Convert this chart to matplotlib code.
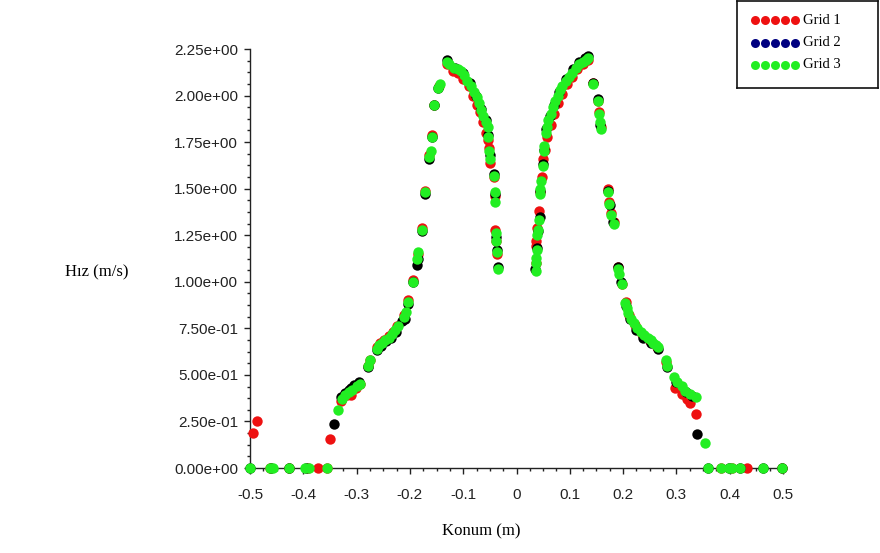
import matplotlib
matplotlib.use('Agg')
import matplotlib.pyplot as plt
from matplotlib.ticker import MultipleLocator, FuncFormatter

# Grid 3 (green, drawn on top)
g3_x = [-0.5, -0.462, -0.456, -0.426, -0.396, -0.39, -0.356,
        -0.334, -0.328, -0.322, -0.315, -0.308, -0.300, -0.293, -0.278, -0.274,
        -0.262, -0.258, -0.252, -0.246, -0.240, -0.234, -0.228, -0.223, -0.212,
        -0.208, -0.203, -0.195, -0.186, -0.184, -0.178, -0.171, -0.165, -0.161,
        -0.159, -0.154, -0.148, -0.144, -0.130, -0.126,
        -0.118, -0.110, -0.104, -0.098, -0.092, -0.086, -0.080, -0.075, -0.070,
        -0.066, -0.062, -0.058, -0.054, -0.053, -0.051, -0.049, -0.043, -0.041,
        -0.041, -0.039, -0.038, -0.036, -0.034,
        0.036, 0.036, 0.037, 0.038, 0.039, 0.040, 0.043, 0.045, 0.045, 0.046,
        0.049, 0.051, 0.052, 0.055, 0.057, 0.060, 0.064, 0.069, 0.073, 0.077,
        0.082, 0.086, 0.092, 0.098, 0.104, 0.111, 0.118, 0.124, 0.130, 0.135,
        0.144, 0.152, 0.154, 0.156, 0.158, 0.171, 0.173, 0.178, 0.182, 0.190,
        0.193, 0.197, 0.204, 0.207, 0.210, 0.215, 0.220, 0.226, 0.233, 0.240,
        0.246, 0.252, 0.257, 0.262, 0.266, 0.280, 0.283, 0.295, 0.302, 0.310,
        0.317, 0.326, 0.336, 0.353,
        0.360, 0.383, 0.398, 0.405, 0.420, 0.462, 0.499]
g3_y = [0, 0, 0, 0, 0, 0, 0,
        0.31, 0.37, 0.39, 0.41, 0.42, 0.44, 0.45, 0.55, 0.58,
        0.64, 0.66, 0.67, 0.69, 0.70, 0.72, 0.74, 0.76, 0.81,
        0.84, 0.89, 1.00, 1.12, 1.16, 1.28, 1.48, 1.67, 1.70,
        1.78, 1.95, 2.04, 2.06, 2.18, 2.17,
        2.15, 2.14, 2.13, 2.11, 2.08, 2.05, 2.02, 1.99, 1.96,
        1.92, 1.89, 1.86, 1.83, 1.78, 1.70, 1.66, 1.57, 1.48,
        1.43, 1.26, 1.22, 1.16, 1.07,
        1.06, 1.10, 1.13, 1.17, 1.25, 1.28, 1.33, 1.47, 1.50, 1.54,
        1.62, 1.70, 1.73, 1.80, 1.83, 1.87, 1.90, 1.94, 1.97, 2.00,
        2.03, 2.05, 2.08, 2.10, 2.12, 2.15, 2.17, 2.18, 2.19, 2.20,
        2.06, 1.97, 1.90, 1.86, 1.82, 1.48, 1.42, 1.36, 1.31, 1.07,
        1.04, 0.99, 0.885, 0.86, 0.83, 0.80, 0.78, 0.75, 0.73, 0.715,
        0.70, 0.685, 0.67, 0.66, 0.65, 0.58, 0.55, 0.49, 0.46, 0.44,
        0.415, 0.40, 0.38, 0.135,
        0, 0, 0, 0, 0, 0, 0]

# Grid 1 (red)
g1_x = [-0.495, -0.486, -0.462, -0.426, -0.392, -0.373, -0.356, -0.349,
        -0.330, -0.318, -0.311, -0.302, -0.294, -0.278, -0.274, -0.262, -0.256,
        -0.248, -0.240, -0.232, -0.224, -0.212, -0.204, -0.195, -0.185, -0.178,
        -0.171, -0.165, -0.159, -0.154, -0.146, -0.130,
        -0.120, -0.110, -0.100, -0.090, -0.082, -0.074, -0.068, -0.062, -0.057,
        -0.054, -0.052, -0.049, -0.043, -0.041, -0.040, -0.038, -0.036,
        0.036, 0.036, 0.037, 0.039, 0.043, 0.045, 0.047, 0.050, 0.053, 0.058,
        0.064, 0.070, 0.078, 0.086, 0.095, 0.104, 0.114, 0.124, 0.134,
        0.144, 0.152, 0.155, 0.158, 0.171, 0.174, 0.178, 0.182, 0.190, 0.197,
        0.205, 0.212, 0.222, 0.236, 0.250, 0.264, 0.281, 0.298, 0.310, 0.320,
        0.326, 0.336,
        0.383, 0.405, 0.433, 0.499]
g1_y = [0.19, 0.25, 0, 0, 0, 0, 0, 0.157,
        0.36, 0.39, 0.39, 0.43, 0.45, 0.55, 0.58, 0.65, 0.67,
        0.69, 0.71, 0.73, 0.76, 0.82, 0.90, 1.01, 1.15, 1.29,
        1.49, 1.68, 1.79, 1.95, 2.05, 2.17,
        2.13, 2.12, 2.09, 2.05, 2.00, 1.95, 1.91, 1.86, 1.80,
        1.76, 1.72, 1.64, 1.56, 1.46, 1.28, 1.22, 1.15,
        1.10, 1.19, 1.22, 1.29, 1.38, 1.48, 1.56, 1.66, 1.71, 1.78,
        1.84, 1.90, 1.96, 2.01, 2.06, 2.10, 2.14, 2.17, 2.19,
        2.07, 1.97, 1.91, 1.83, 1.50, 1.43, 1.37, 1.32, 1.08, 0.99,
        0.89, 0.82, 0.77, 0.72, 0.68, 0.65, 0.57, 0.43, 0.40, 0.37,
        0.35, 0.29,
        0, 0, 0, 0]

# Grid 2 (black)
g2_x = [-0.5, -0.46, -0.426, -0.394,
        -0.343, -0.330, -0.321, -0.315, -0.311, -0.305, -0.296, -0.278, -0.262,
        -0.254, -0.244, -0.236, -0.226, -0.214, -0.210, -0.203, -0.195, -0.186,
        -0.184, -0.178, -0.171, -0.165, -0.159, -0.154, -0.148, -0.131,
        -0.115, -0.100, -0.088, -0.076, -0.066, -0.058, -0.053, -0.050, -0.043,
        -0.041, -0.038, -0.036, -0.034,
        0.035, 0.038, 0.040, 0.044, 0.045, 0.049, 0.051, 0.056, 0.062, 0.070,
        0.080, 0.092, 0.106, 0.118, 0.128, 0.134,
        0.144, 0.152, 0.157, 0.171, 0.175, 0.181, 0.190, 0.196, 0.205, 0.213,
        0.225, 0.238, 0.252, 0.266, 0.283, 0.300, 0.318, 0.330, 0.338,
        0.360, 0.398, 0.420, 0.462, 0.499]
g2_y = [0, 0, 0, 0,
        0.237, 0.38, 0.405, 0.42, 0.43, 0.445, 0.46, 0.545, 0.635,
        0.655, 0.68, 0.70, 0.73, 0.79, 0.80, 0.88, 1.00, 1.09,
        1.12, 1.27, 1.47, 1.66, 1.78, 1.95, 2.04, 2.19,
        2.15, 2.12, 2.07, 2.00, 1.93, 1.87, 1.79, 1.68, 1.58,
        1.47, 1.24, 1.17, 1.08,
        1.07, 1.18, 1.27, 1.35, 1.49, 1.63, 1.71, 1.82, 1.89, 1.95,
        2.02, 2.09, 2.14, 2.18, 2.20, 2.21,
        2.07, 1.98, 1.84, 1.49, 1.41, 1.32, 1.08, 1.00, 0.87, 0.80,
        0.74, 0.70, 0.67, 0.64, 0.54, 0.46, 0.41, 0.385, 0.18,
        0, 0, 0, 0, 0]

labels = ['Grid 1', 'Grid 2', 'Grid 3']
legend_colors = ['#ee1111', '#000080', '#22ee22']

fig = plt.figure(figsize=(8.8, 5.53), dpi=100)
ax = fig.add_axes([250/880, 85/553, 533/880, 419/553])

ms = 56
ax.scatter(g1_x, g1_y, s=ms, color='#ee1111', linewidths=0, clip_on=False, zorder=3)
ax.scatter(g2_x, g2_y, s=ms, color='#000000', linewidths=0, clip_on=False, zorder=4)
ax.scatter(g3_x, g3_y, s=ms, color='#22ee22', linewidths=0, clip_on=False, zorder=5)

ax.set_xlim(-0.5, 0.5)
ax.set_ylim(0, 2.25)
ax.spines['top'].set_visible(False)
ax.spines['right'].set_visible(False)
for s in ['left', 'bottom']:
    ax.spines[s].set_color('#222222')
    ax.spines[s].set_linewidth(1.0)

ax.xaxis.set_major_locator(MultipleLocator(0.1))
ax.xaxis.set_minor_locator(MultipleLocator(0.025))
ax.yaxis.set_major_locator(MultipleLocator(0.25))
ax.yaxis.set_minor_locator(MultipleLocator(0.0625))
ax.xaxis.set_major_formatter(FuncFormatter(lambda v, p: '0' if abs(v) < 1e-9 else '%.1f' % v))
ax.yaxis.set_major_formatter(FuncFormatter(lambda v, p: '%.2e' % v))
ax.tick_params(which='major', direction='out', length=4.5, width=1, color='#222222',
               labelsize=11, labelcolor='#222222')
ax.tick_params(which='minor', direction='out', length=2.5, width=1, color='#222222')
ax.tick_params(axis='x', which='major', pad=10)
ax.tick_params(axis='y', which='major', pad=4)
for lab in ax.get_xticklabels() + ax.get_yticklabels():
    lab.set_family('Liberation Sans')

fig.text(65/880, 1 - 272/553, 'Hız (m/s)', family='Liberation Serif', fontsize=12,
         ha='left', va='center')
fig.text(481/880, 1 - 531/553, 'Konum (m)', family='Liberation Serif', fontsize=12,
         ha='center', va='center')

# legend box drawn by hand: five dots per row, serif text
lax = fig.add_axes([737/880, 1 - 88/553, 141/880, 87/553])
lax.set_xlim(0, 141)
lax.set_ylim(87, 0)
lax.set_xticks([])
lax.set_yticks([])
for s in lax.spines.values():
    s.set_linewidth(1.2)
    s.set_color('#111111')
for i, (lab, c) in enumerate(zip(labels, legend_colors)):
    yy = 19 + i * 22.5
    lax.scatter([18, 28, 38, 48, 58], [yy] * 5, s=42, color=c, linewidths=0)
    lax.text(66, yy, lab, family='Liberation Serif', fontsize=10.5, va='center', ha='left')

fig.savefig('out.png', dpi=100)
